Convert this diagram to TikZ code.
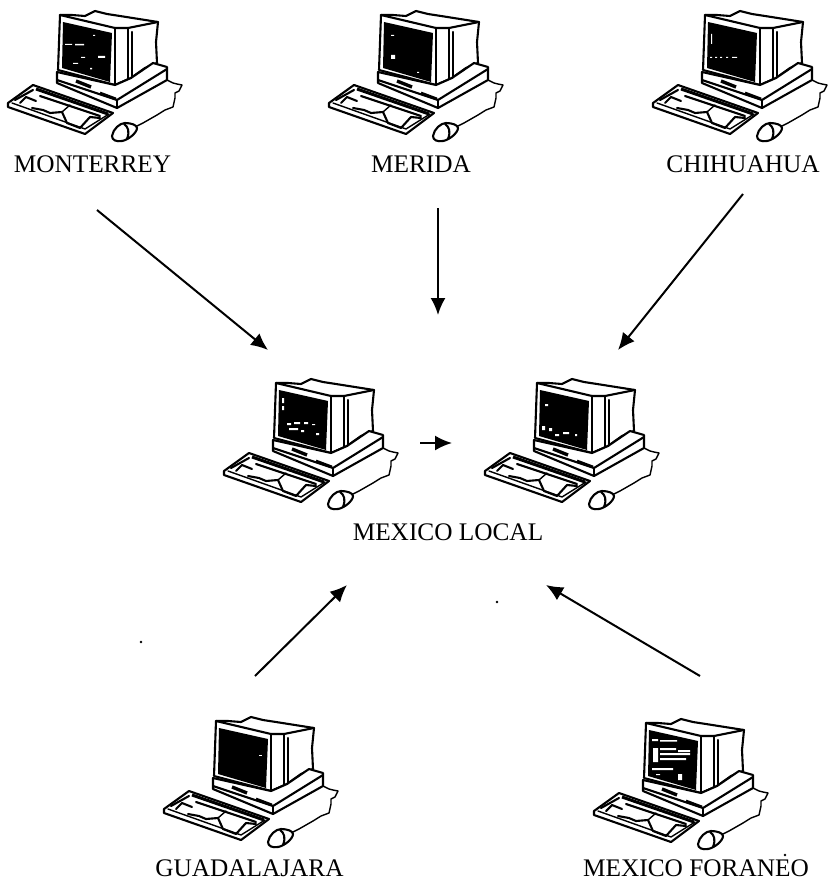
\documentclass[tikz,border=0pt]{standalone}
\usepackage{fontspec}
\setmainfont{Liberation Serif}
\usetikzlibrary{arrows.meta}
\tikzset{
  x=1pt,y=-1pt,
  lbl/.style={font=\fontsize{25.3}{28}\selectfont,inner sep=0pt,text=black},
  link/.style={line width=2pt,-{Latex[length=17pt,width=15pt]}},
  ink/.style={line width=2.1pt,line join=round,line cap=round,draw=black},
  inkthin/.style={line width=1.4pt,line join=round,line cap=round,draw=black},
  pics/pc/.style={code={
    % monitor outline
    \draw[ink,fill=white] (60,15) -- (72,15) -- (85,16) -- (95,11) -- (107,14) -- (120,16) -- (158,22) -- (156,42) -- (157,63) -- (145,68) -- (131,78) -- (115,85) -- (58,70) -- cycle;
    \draw[ink] (60,15) -- (115,28) -- (128,28) -- (158,22);
    \draw[ink] (115,28) -- (115,85);
    \draw[ink] (128,28) -- (128,79);
    \draw[ink] (132,32) -- (132,76);
    % screen
    \fill[black] (63,22) -- (112,33) -- (110,82) -- (62,68) -- cycle;
    #1
    % base
    \draw[ink,fill=white] (57,72) -- (57,83) -- (117,108) -- (167,80) -- (167,67) -- (153,63) -- (131,78) -- (115,85) -- cycle;
    \draw[ink] (57,80) -- (117,100) -- (167,69);
    \draw[ink] (117,100) -- (117,108);
    \draw[line width=3.4pt] (76,81) -- (91,87);
    \draw[line width=2.8pt] (100,93) -- (116,99);
    % keyboard
    \draw[ink,fill=white] (8,103) -- (33,85) -- (113,113) -- (85,134) -- (8,107) -- cycle;
    \draw[line width=3pt] (36,89) -- (108,114);
    \draw[ink] (15,100) -- (33,90);
    \draw[inkthin] (12,103) -- (85,129) -- (109,114);
    \draw[ink] (20,103) -- (26,97) -- (36,101);
    \draw[ink] (32,108) -- (43,110) -- (50,113) -- (62,112) -- (67,123) -- (80,128) -- (90,117) -- (100,118);
    \draw[ink] (40,96) -- (100,116);
    \draw[inkthin] (62,112) -- (70,105);
    % cord
    \draw[inkthin] (167,80) -- (173,83) -- (177,84) -- (182,85) -- (179,91) -- (175,93) -- (175,98) -- (173,107) -- (165,110) -- (157,115) -- (150,119) -- (143,123) -- (135,127);
    % mouse
    \draw[ink,fill=white] (112,136) .. controls (113,129) and (120,123) .. (125,123) .. controls (131,123) and (137,125) .. (137,128) .. controls (137,133) and (128,140) .. (122,141) .. controls (116,142) and (112,140) .. (112,136) -- cycle;
    \draw[ink] (124,124) .. controls (128,127) and (130,131) .. (127,139);
  }},
  pics/pc/.default={},
  speck/.style={fill=black,inner sep=0pt,minimum size=2.6pt,circle}
}
\newcommand{\specksA}{\fill[white] (65,44) rectangle (72,45) (75,44) rectangle (84,45.5) (81,57) rectangle (85,58) (98,56) rectangle (105,58) (73,63) rectangle (78,64) (90,68) rectangle (92,69.5) (93,35) rectangle (95,36);}
\newcommand{\specksM}{\fill[white] (70,35) rectangle (73,36) (70,55) rectangle (74,59) (96,72) rectangle (98,73);}
\newcommand{\specksH}{\fill[white] (65,57) rectangle (67,58) (70,57) rectangle (72,58) (75,57) rectangle (77,58) (81,57) rectangle (83,58) (87,57) rectangle (92,58) (66,34) rectangle (67,44);}
\newcommand{\specksB}{\fill[white] (71,55) rectangle (75,57) (78,54) rectangle (84,56) (88,54) rectangle (92,56) (96,56) rectangle (99,57) (73,60) rectangle (82,62) (85,62) rectangle (88,64) (100,65) rectangle (103,67) (66,30) rectangle (68,35) (66,38) rectangle (68,42);}
\newcommand{\specksR}{\fill[white] (68,36) rectangle (71,38) (65,58) rectangle (68,62) (72,60) rectangle (75,63) (78,66) rectangle (82,68) (86,64) rectangle (92,66) (98,66) rectangle (100,68);}
\newcommand{\specksG}{\fill[white] (103,49) rectangle (106,50);}
\newcommand{\specksF}{\fill[white] (66,31) rectangle (72,33) (74,32) rectangle (91,33.5) (67,40) rectangle (72,54) (74,40) rectangle (90,42) (92,42) rectangle (104,44) (74,45) rectangle (104,47) (74,50) rectangle (100,52) (66,60) rectangle (87,62) (92,66) rectangle (96,72) (70,66) rectangle (74,67);}
\begin{document}
\begin{tikzpicture}
\useasboundingbox (0,0) rectangle (829,880);
\fill[white] (0,0) rectangle (829,880);
\pic at (0,0) {pc={\specksA}};
\pic at (321,0) {pc={\specksM}};
\pic at (645,0) {pc={\specksH}};
\pic at (216,368) {pc={\specksB}};
\pic at (477,368) {pc={\specksR}};
\pic at (156,706) {pc={\specksG}};
\pic at (586,708) {pc={\specksF}};
\node[lbl,anchor=base] (mty) at (92.5,172) {MONTERREY};
\node[lbl,anchor=base] (mer) at (421,172) {MERIDA};
\node[lbl,anchor=base] (chi) at (743,172) {CHIHUAHUA};
\node[lbl] (loc) at (448,532) {MEXICO LOCAL};
\node[lbl] (gdl) at (249.5,868) {GUADALAJARA};
\node[lbl] (for) at (696,868) {MEXICO FORANEO};
\node[speck] (s1) at (141,642) {};
\node[speck] (s2) at (497,602) {};
\node[speck] (s3) at (785,855) {};
\coordinate (a1) at (97,210); \coordinate (b1) at (268,350);
\coordinate (a2) at (438,208); \coordinate (b2) at (438,315);
\coordinate (a3) at (743,194); \coordinate (b3) at (618,350);
\coordinate (a4) at (420,443); \coordinate (b4) at (452,443);
\coordinate (a5) at (255,676); \coordinate (b5) at (347,585);
\coordinate (a6) at (700,676); \coordinate (b6) at (546,585);
\draw[link] (a1) -- (b1);
\draw[link] (a2) -- (b2);
\draw[link] (a3) -- (b3);
\draw[link] (a4) -- (b4);
\draw[link] (a5) -- (b5);
\draw[link] (a6) -- (b6);
\end{tikzpicture}
\end{document}
